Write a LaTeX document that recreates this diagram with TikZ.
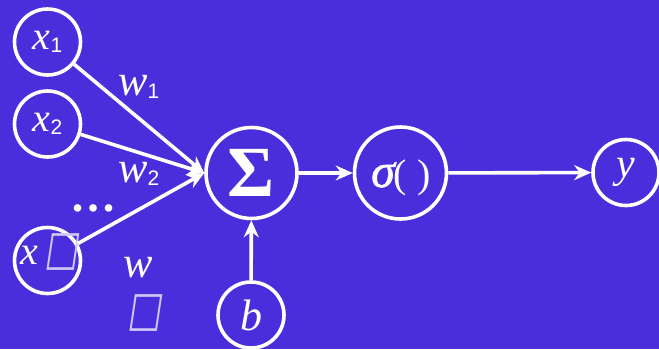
\documentclass[tikz,border=0pt]{standalone}
\usepackage{fontspec}
\setmainfont{Liberation Serif}
\newfontfamily\subfont{Liberation Sans}
\newfontfamily\glyphfont[FakeSlant=0.2]{DejaVu Sans}
\newfontfamily\sigmafont[FakeBold=1.2]{Liberation Serif Italic}
\usetikzlibrary{arrows.meta}
\definecolor{bgpurple}{HTML}{4A2EDB}
\definecolor{boxline}{HTML}{D0C8F4}
\newcommand{\sub}[1]{\raisebox{-0.08em}{\fontsize{21}{21}\subfont\upshape #1}}
\newcommand{\missing}{{\glyphfont\upshape\color{boxline}\fontsize{40}{40}\selectfont\scalebox{0.9}[1.2]{□}}}
\begin{document}
\begin{tikzpicture}[x=1pt,y=-1pt,
  unit/.style={draw=white, line width=3.6pt, circle, inner sep=0pt, text=white},
  flow/.style={draw=white, line width=3.6pt, -{Stealth[length=17pt,width=15pt,inset=5.5pt]}},
  lbl/.style={text=white, font=\fontsize{44}{44}\selectfont\itshape, inner sep=0pt}]
  \fill[bgpurple] (0,0) rectangle (659,349);
  \useasboundingbox (0,0) rectangle (659,349);

  % inputs
  \node[unit, minimum size=66pt, font=\fontsize{40}{40}\selectfont\itshape] (x1) at (47.5,42) {x\sub{1}};
  \node[unit, minimum size=66pt, font=\fontsize{40}{40}\selectfont\itshape] (x2) at (47.5,124) {x\sub{2}};
  \node[unit, minimum size=66pt] (xn) at (47.5,260.5) {};
  \node[text=white, font=\fontsize{40}{40}\selectfont\itshape, inner sep=0pt, anchor=base west] (xnlab) at (20,264) {x\,\missing};

  % summation, activation, output, bias
  \node[unit, minimum width=91pt, minimum height=88pt, font=\fontsize{72}{72}\selectfont\bfseries\upshape] (sum) at (251.5,173) {\raisebox{-0.04em}{Σ}};
  \node[unit, minimum width=92pt, minimum height=88pt] (act) at (400.5,173) {};
  \node[text=white, inner sep=0pt, anchor=base west] (actlab) at (371,187)
    {{\sigmafont\fontsize{48}{48}\selectfont σ}\kern-1pt{\fontsize{40}{40}\selectfont( )}};
  \node[unit, minimum size=66pt, font=\fontsize{42}{42}\selectfont\itshape] (out) at (626,172.5) {y};
  \node[unit, minimum size=66pt, font=\fontsize{44}{44}\selectfont\itshape] (bias) at (251,315) {b};

  % connectors
  \coordinate (join) at (sum.west);
  \draw[flow] (x1) -- (join);
  \draw[flow] (x2) -- (join);
  \draw[flow] (xn) -- (join);
  \draw[flow] (sum) -- (act);
  \draw[flow] (act) -- (out);
  \draw[flow] (bias) -- (sum);

  % weights
  \node[lbl, anchor=base west] (w1) at (118,95) {w\sub{1}};
  \node[lbl, anchor=base west] (w2) at (118,182) {w\sub{2}};
  \node[lbl, anchor=base west] (wn) at (123,277) {w};
  \node[lbl, anchor=base west] (wnsub) at (127,325) {\missing};
  \node[text=white, font=\fontsize{46}{46}\selectfont\bfseries, inner sep=0pt] (dots) at (93,208) {…};
\end{tikzpicture}
\end{document}
